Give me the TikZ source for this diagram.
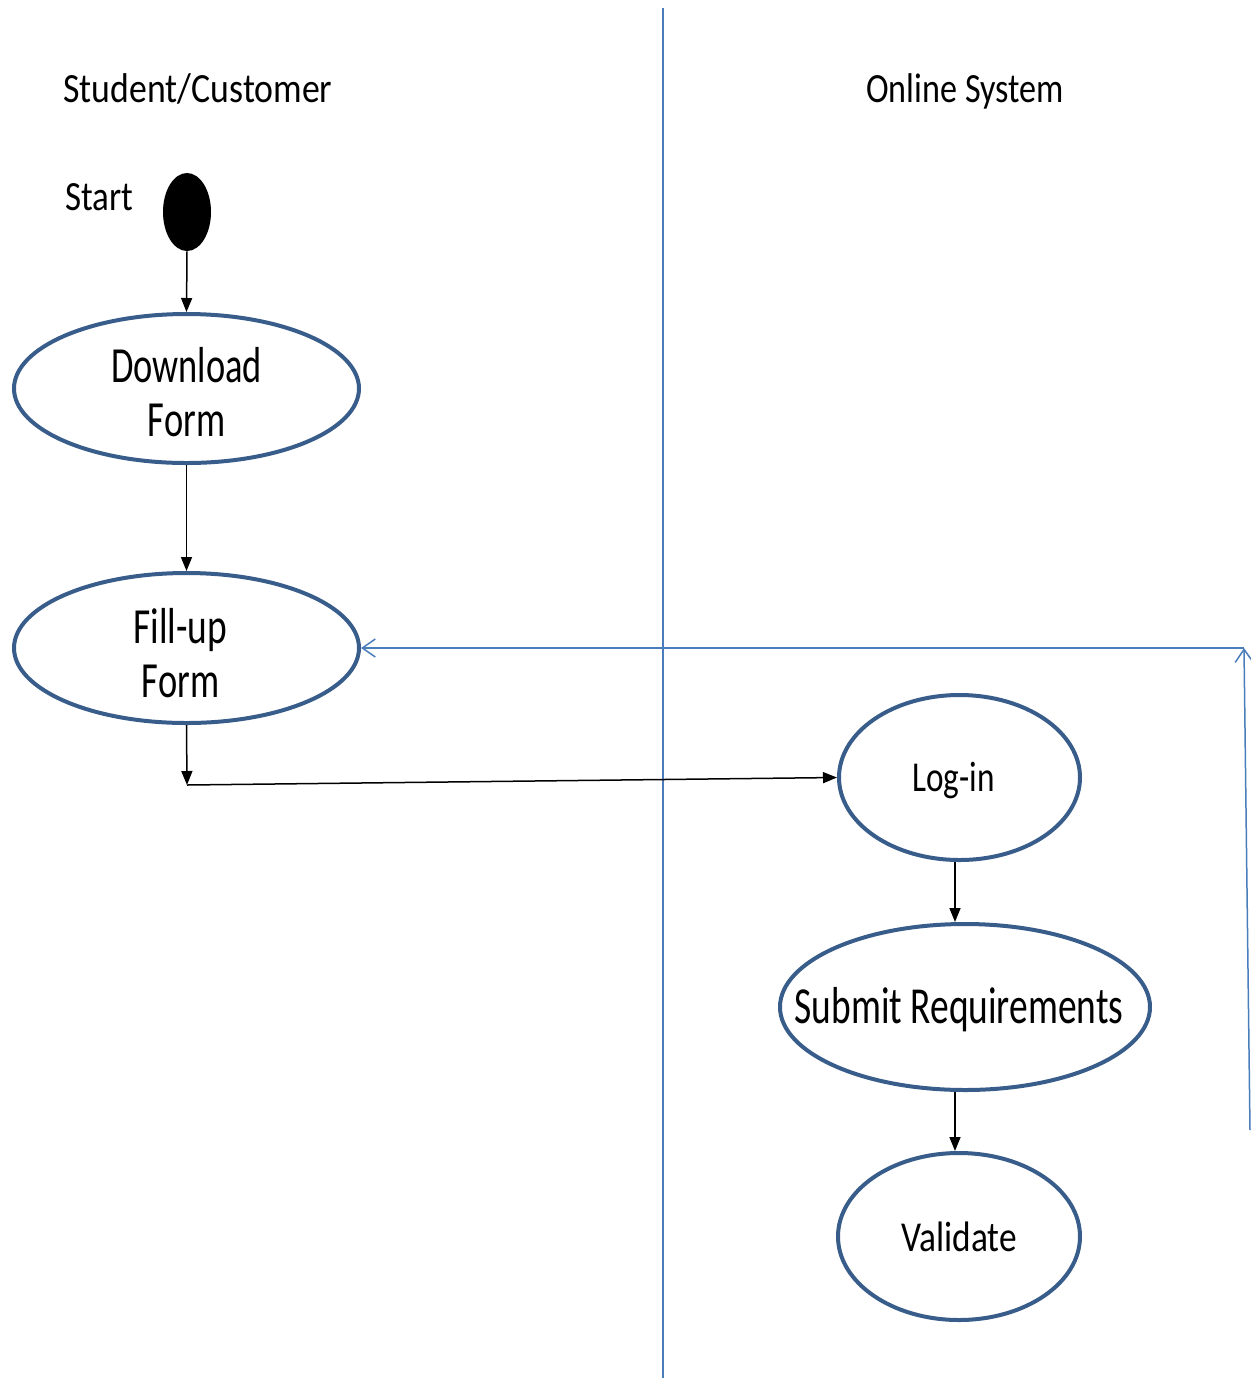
\documentclass[tikz,border=0pt]{standalone}
\usepackage{fontspec}
\setmainfont{Carlito}
\usetikzlibrary{shapes.geometric,arrows.meta}
\definecolor{ellc}{HTML}{385D8A}
\definecolor{lanec}{HTML}{4A7EBB}
\newcommand\hsx[2]{\scalebox{#1}[1]{#2}}
\begin{document}
\begin{tikzpicture}[x=0.5pt,y=-0.5pt,
  ell/.style={ellipse, draw=ellc, line width=2pt, inner sep=0pt, fill=white},
  flow/.style={draw=black, line width=0.75pt, -{Triangle[length=7pt,width=5.5pt]}},
  back/.style={draw=lanec, line width=0.75pt, -{Straight Barb[length=6.5pt,width=9pt]}},
  big/.style={font=\fontsize{25.3}{27}\selectfont, align=center, inner sep=0pt},
  small/.style={font=\fontsize{21.3}{24}\selectfont, inner sep=0pt},
  hdr/.style={font=\fontsize{20.8}{24}\selectfont, inner sep=0pt, anchor=base}
]
\useasboundingbox (0,0) rectangle (1251,1378);
% lane divider
\coordinate (d1) at (663,8);
\coordinate (d2) at (663,1378);
\draw[lanec, line width=0.6pt] (d1) -- (d2);
% headers
\node[hdr] (h1) at (198,102) {\hsx{0.86}{Student/Customer}};
\node[hdr] (h2) at (965,102) {\hsx{0.82}{Online System}};
\node[hdr] (hs) at (99.5,210) {\hsx{0.84}{Start}};
% start
\node[ellipse, fill=black, minimum width=24pt, minimum height=39pt, inner sep=0pt] (st) at (187,212) {};
% activities
\node[ell, minimum width=172.5pt, minimum height=74.5pt,
  label={[big, yshift=-2pt]center:{\hsx{0.72}{Download}\\\hsx{0.72}{Form}}}] (dl) at (186.5,388.5) {};
\node[ell, minimum width=172.5pt, minimum height=75pt,
  label={[big, xshift=-3pt, yshift=-2.5pt]center:{\hsx{0.74}{Fill-up}\\\hsx{0.72}{Form}}}] (fu) at (186.5,648) {};
\node[ell, minimum width=120.5pt, minimum height=82.5pt,
  label={[small, xshift=-3pt, yshift=-1.5pt]center:{\hsx{0.78}{Log-in}}}] (li) at (959.5,777.5) {};
\node[ell, minimum width=185pt, minimum height=83pt,
  label={[big, font=\fontsize{26}{28}\selectfont, xshift=-3pt, yshift=-1.5pt]center:{\hsx{0.72}{Submit Requirements}}}] (sub) at (965,1007) {};
\node[ell, minimum width=121pt, minimum height=83.5pt,
  label={[small]center:{\hsx{0.83}{Validate}}}] (val) at (959,1236.5) {};
% flows
\coordinate (v) at (955,0);
\coordinate (bend) at (187,785);
\draw[flow] (st.south) -- (dl.north);
\draw[flow] (dl.south) -- (fu.north);
\draw[flow] (fu.south) -- (bend);
\draw[flow] (bend) -- (li.west);
\draw[flow] (li.south -| v) -- (sub.north -| v);
\draw[flow] (sub.south -| v) -- (val.north -| v);
% return loop
\coordinate (rb) at (1250,1130);
\coordinate (rt) at (1244,648);
\draw[back] (rb) -- (rt);
\draw[back] (rt) -- (fu.east);
\end{tikzpicture}
\end{document}
